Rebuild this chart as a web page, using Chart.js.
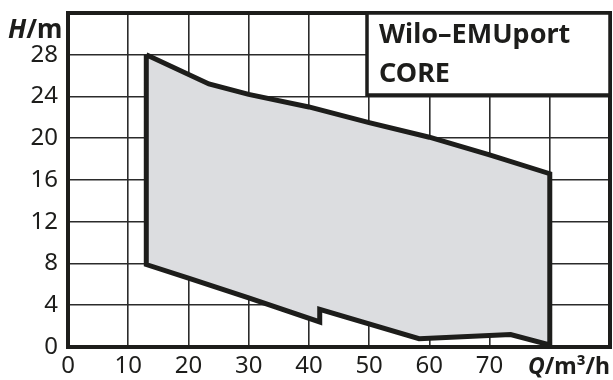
<!DOCTYPE html>
<html>
<head>
<meta charset="utf-8">
<script src="https://cdn.jsdelivr.net/npm/chart.js@4"></script>
<style>
  html, body { margin: 0; padding: 0; background: #fff; }
</style>
</head>
<body>
<canvas id="chart" width="613" height="380"></canvas>
<script>
// operating range of the pump, upper edge (left to right)
const qUpper = [13, 23.4, 30, 40, 50, 60, 70, 80];
const hUpper = [28, 25.2, 24.2, 23, 21.5, 20.1, 18.4, 16.6];
// lower edge (right to left)
const qLower = [80, 73.5, 58.3, 41.8, 41.8, 30, 20, 13];
const hLower = [0.2, 1.2, 0.8, 3.6, 2.4, 4.7, 6.6, 7.9];

const xTicks = [0, 10, 20, 30, 40, 50, 60, 70];
const yTicks = [0, 4, 8, 12, 16, 20, 24, 28];
const yTitle = "H/m";
const xTitle = "Q/m³/h";
const boxLines = ["Wilo–EMUport", "CORE"];

const shape = [];
qUpper.forEach((q, i) => shape.push({ x: q, y: hUpper[i] }));
qLower.forEach((q, i) => shape.push({ x: q, y: hLower[i] }));
shape.push({ x: qUpper[0], y: hUpper[0] }); // close left edge

const ink = "#1d1d1b";

// titles, frame and the label box
const extras = {
  id: "extras",
  afterDraw(chart) {
    const { ctx, chartArea: a } = chart;
    ctx.save();
    ctx.strokeStyle = ink;
    ctx.lineWidth = 4;
    ctx.strokeRect(a.left, a.top, a.right - a.left, a.bottom - a.top);

    // label box
    const bx = 367, by = a.top, bw = a.right - 367, bh = 95 - a.top;
    ctx.fillStyle = "#fff";
    ctx.fillRect(bx, by, bw, bh);
    ctx.lineWidth = 3.5;
    ctx.strokeRect(bx, by, bw, bh);
    ctx.fillStyle = ink;
    ctx.font = "bold 27px 'Noto Sans'";
    ctx.textBaseline = "alphabetic";
    ctx.textAlign = "left";
    ctx.fillText(boxLines[0], 379, 43);
    ctx.fillText(boxLines[1], 379, 82);

    // axis titles
    ctx.font = "bold italic 26px 'Noto Sans'";
    ctx.fillText(yTitle[0], 8, 38);
    let w = ctx.measureText(yTitle[0]).width;
    ctx.font = "bold 26px 'Noto Sans'";
    ctx.fillText(yTitle.slice(1), 8 + w, 38);

    ctx.font = "bold italic 23px 'Noto Sans'";
    ctx.fillText(xTitle[0], 528, 374);
    w = ctx.measureText(xTitle[0]).width;
    ctx.font = "bold 23px 'Noto Sans'";
    ctx.fillText(xTitle.slice(1), 528 + w, 374);
    ctx.restore();
  }
};

new Chart(document.getElementById("chart"), {
  type: "line",
  data: {
    datasets: [{
      data: shape,
      borderColor: ink,
      borderWidth: 5,
      borderJoinStyle: "miter",
      backgroundColor: "#dcdde0",
      fill: "shape",
      tension: 0,
      pointRadius: 0
    }]
  },
  options: {
    responsive: false,
    animation: false,
    layout: { padding: { top: 13, right: 3, left: 0, bottom: 0 } },
    plugins: { legend: { display: false }, tooltip: { enabled: false } },
    scales: {
      x: {
        type: "linear",
        min: 0, max: 90,
        afterBuildTicks: (s) => { s.ticks = [0, 10, 20, 30, 40, 50, 60, 70, 80, 90].map(v => ({ value: v })); },
        afterFit: (s) => { s.height = 33; s.paddingLeft = 0; s.paddingRight = 0; },
        ticks: {
          padding: 5,
          color: ink,
          font: { family: "Noto Sans", size: 24 },
          maxRotation: 0,
          autoSkip: false,
          callback: (v) => xTicks.includes(v) ? String(v) : ""
        },
        grid: { color: "#2b2b2b", lineWidth: 1.6, drawTicks: false },
        border: { color: ink, width: 4 }
      },
      y: {
        type: "linear",
        min: 0, max: 32,
        afterBuildTicks: (s) => { s.ticks = [0, 4, 8, 12, 16, 20, 24, 28, 32].map(v => ({ value: v })); },
        afterFit: (s) => { s.width = 68; s.paddingTop = 0; s.paddingBottom = 0; },
        ticks: {
          padding: 10,
          color: ink,
          font: { family: "Noto Sans", size: 24 },
          autoSkip: false,
          callback: (v) => yTicks.includes(v) ? String(v) : ""
        },
        grid: { color: "#2b2b2b", lineWidth: 1.6, drawTicks: false },
        border: { color: ink, width: 4 }
      }
    }
  },
  plugins: [extras]
});
</script>
</body>
</html>
